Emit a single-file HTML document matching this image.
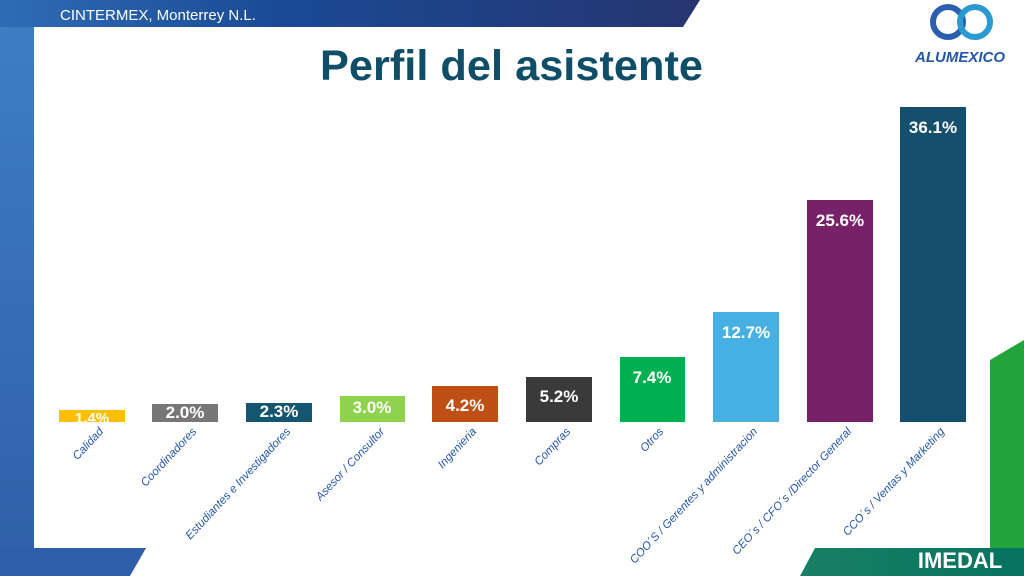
<!DOCTYPE html><html><head><style>body{margin:0;width:1024px;height:576px;overflow:hidden;background:#fff}</style></head><body>
<svg width="1024" height="576" xmlns="http://www.w3.org/2000/svg" font-family="Liberation Sans, sans-serif">
<defs><linearGradient id="hb" x1="0" x2="1"><stop offset="0" stop-color="#2f6cb5"/><stop offset=".4" stop-color="#1a4a95"/><stop offset="1" stop-color="#263570"/></linearGradient>
<linearGradient id="lb" x1="0" y1="0" x2="0" y2="1"><stop offset="0" stop-color="#3f7fc4"/><stop offset="1" stop-color="#2f5fa8"/></linearGradient>
<linearGradient id="gb" x1="0" x2="1"><stop offset="0" stop-color="#1a7f66"/><stop offset="1" stop-color="#06735f"/></linearGradient></defs>
<rect width="1024" height="576" fill="#fff"/>
<rect x="0" y="0" width="34" height="576" fill="url(#lb)"/>
<polygon points="0,0 700,0 683,27 0,27" fill="url(#hb)"/>
<polygon points="0,548 146,548 130,576 0,576" fill="#2f5fa8"/>
<polygon points="990,360 1024,340 1024,576 990,576" fill="#22a33c"/>
<polygon points="815,548 1024,548 1024,576 800,576" fill="url(#gb)"/>
<text x="60" y="20" font-size="15" fill="#fff">CINTERMEX, Monterrey N.L.</text>
<text x="320" y="80" font-size="43" font-weight="bold" fill="#0f4e66" textLength="383" lengthAdjust="spacingAndGlyphs">Perfil del asistente</text>
<circle cx="948" cy="22" r="15" fill="none" stroke="#2a5fb0" stroke-width="6"/><circle cx="975" cy="22" r="15" fill="none" stroke="#2a9ad0" stroke-width="6"/>
<text x="960" y="62" font-size="15" font-weight="bold" fill="#2456a8" text-anchor="middle" font-style="italic">ALUMEXICO</text>
<text x="960" y="568" font-size="22" font-weight="bold" fill="#fff" text-anchor="middle">IMEDAL</text>
<g>
<rect x="59" y="410" width="66" height="12" fill="#fcbf00"/>
<rect x="152" y="404" width="66" height="18" fill="#777"/>
<rect x="246" y="403" width="66" height="19" fill="#14566f"/>
<rect x="340" y="396" width="65" height="26" fill="#8fd24e"/>
<rect x="432" y="386" width="66" height="36" fill="#c04f15"/>
<rect x="526" y="377" width="66" height="45" fill="#3a3a3a"/>
<rect x="620" y="357" width="65" height="65" fill="#00b050"/>
<rect x="713" y="312" width="66" height="110" fill="#45b0e1"/>
<rect x="807" y="200" width="66" height="222" fill="#762168"/>
<rect x="900" y="107" width="66" height="315" fill="#14506e"/>
</g>
<g fill="#fff" font-weight="bold" font-size="17" text-anchor="middle">
<text x="92" y="423" font-size="15">1.4%</text><text x="185" y="418">2.0%</text><text x="279" y="417">2.3%</text><text x="372" y="413">3.0%</text><text x="465" y="411">4.2%</text><text x="559" y="402">5.2%</text><text x="652" y="383">7.4%</text><text x="746" y="338">12.7%</text><text x="840" y="226">25.6%</text><text x="933" y="133">36.1%</text>
</g>
<g fill="#2456b0" font-size="11.5" font-style="italic" text-anchor="end">
<text transform="translate(104,432) rotate(-47)">Calidad</text>
<text transform="translate(197,432) rotate(-47)">Coordinadores</text>
<text transform="translate(291,432) rotate(-47)">Estudiantes e Investigadores</text>
<text transform="translate(385,432) rotate(-47)">Asesor / Consultor</text>
<text transform="translate(477,432) rotate(-47)">Ingenieria</text>
<text transform="translate(571,432) rotate(-47)">Compras</text>
<text transform="translate(664,432) rotate(-47)">Otros</text>
<text transform="translate(758,432) rotate(-47)">COO´S / Gerentes y administracion</text>
<text transform="translate(852,432) rotate(-47)">CEO´s / CFO´s /Director General</text>
<text transform="translate(945,432) rotate(-47)">CCO´s / Ventas y Marketing</text>
</g>
</svg></body></html>
